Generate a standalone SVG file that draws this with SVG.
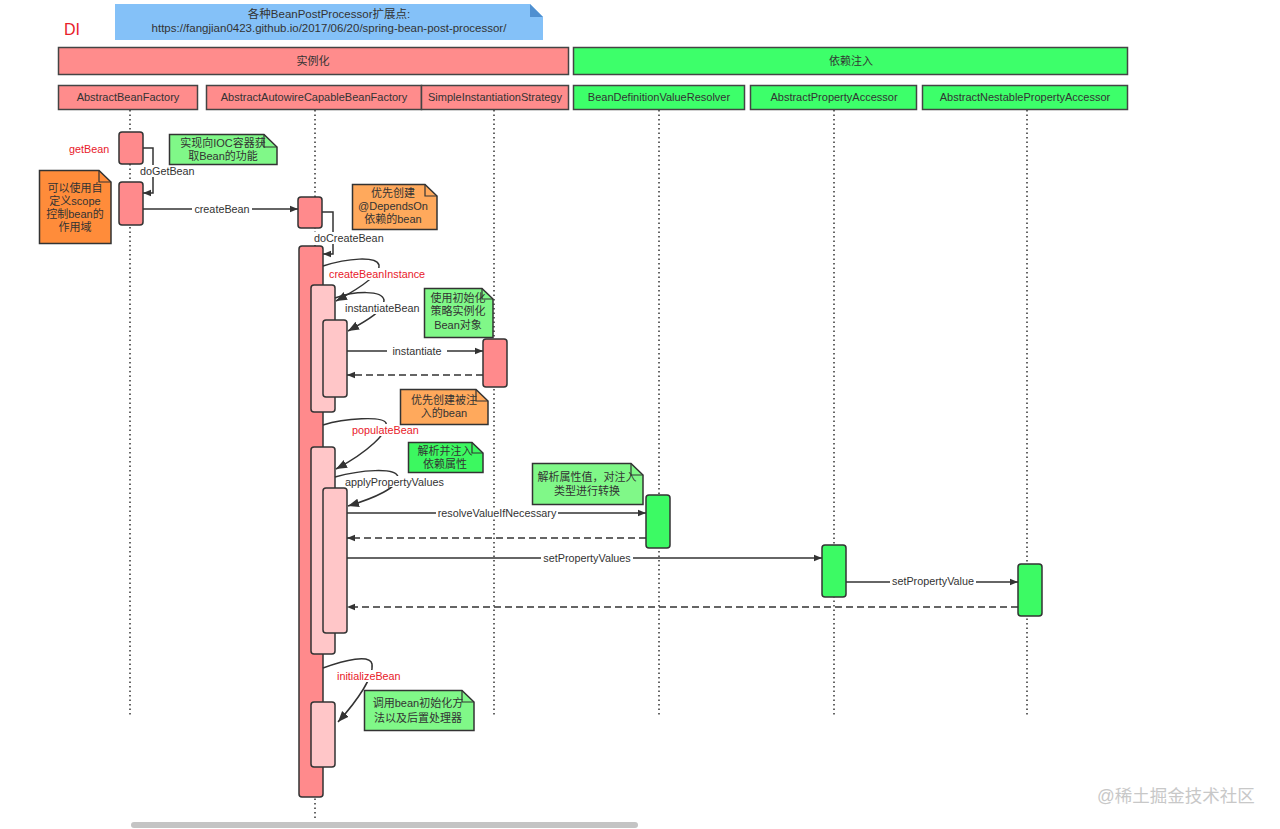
<svg xmlns="http://www.w3.org/2000/svg" width="1280" height="829" viewBox="0 0 1280 829">
<style>
text{font-family:"Liberation Sans","Noto Sans CJK SC",sans-serif;font-size:10.8px;fill:#333;}
.c{text-anchor:middle;}
.red{fill:#e8202a;}
.hdrR{fill:#ff8c8c;stroke:#444;stroke-width:1.5;}
.hdrG{fill:#3dff6a;stroke:#444;stroke-width:1.5;}
.actR{fill:#ff8a8c;stroke:#333;stroke-width:1.5;}
.actP{fill:#ffc6c8;stroke:#333;stroke-width:1.5;}
.actG{fill:#3cfa64;stroke:#333;stroke-width:1.5;}
.life{stroke:#333;stroke-width:1.5;stroke-dasharray:1.5 3;fill:none;}
.msg{stroke:#333;stroke-width:1.5;fill:none;marker-end:url(#ah);}
.ret{stroke:#333;stroke-width:1.5;stroke-dasharray:7 4;fill:none;marker-end:url(#ah);}
.lbl{fill:#fff;}
.noteLG{fill:#80f888;stroke:#333;stroke-width:1.5;}
.noteG{fill:#3cf860;stroke:#333;stroke-width:1.5;}
.noteO{fill:#ff8c3a;stroke:#333;stroke-width:1.5;}
.noteO2{fill:#ffa95c;stroke:#333;stroke-width:1.5;}
.fold{fill:none;stroke:#333;stroke-width:1.2;}
.hd{font-size:11px;}
.nt{font-size:11px;}
</style>
<defs>
<marker id="ah" viewBox="0 0 10 10" refX="10" refY="5" markerWidth="8" markerHeight="8" markerUnits="userSpaceOnUse" orient="auto">
<path d="M0,1 L10,5 L0,9 Z" fill="#333"/>
</marker>
<marker id="ah2" viewBox="0 0 10 10" refX="10" refY="5" markerWidth="11" markerHeight="11" markerUnits="userSpaceOnUse" orient="auto">
<path d="M0,1 L10,5 L0,9 Z" fill="#333"/>
</marker>
</defs>
<rect width="1280" height="829" fill="#fff"/>

<g id="title-note">
<path d="M115,4 H530 L543,17 V40 H115 Z" fill="#84c1f8"/>
<path d="M530,4 L543,17 H530 Z" fill="#4f8fd0"/>
<text class="c" x="329" y="18" style="font-size:11.5px">各种BeanPostProcessor扩展点:</text>
<text class="c" x="329" y="32" style="font-size:11.5px">https://fangjian0423.github.io/2017/06/20/spring-bean-post-processor/</text>
</g>
<g id="di-label"><text x="64" y="35" style="font-size:16px" class="red">DI</text></g>

<g id="group-instantiation">
<rect class="hdrR" x="58.5" y="47.5" width="510" height="27"/>
<text class="c hd" x="313" y="65">实例化</text>
</g>
<g id="group-di">
<rect class="hdrG" x="573.5" y="47.5" width="554" height="27"/>
<text class="c hd" x="851" y="65">依赖注入</text>
</g>

<g id="lifelines">
<line class="life" x1="130" y1="110" x2="130" y2="716"/>
<line class="life" x1="315" y1="110" x2="315" y2="818"/>
<line class="life" x1="494" y1="110" x2="494" y2="716"/>
<line class="life" x1="659" y1="110" x2="659" y2="716"/>
<line class="life" x1="834" y1="110" x2="834" y2="716"/>
<line class="life" x1="1027" y1="110" x2="1027" y2="716"/>
</g>

<g id="p-AbstractBeanFactory"><rect class="hdrR" x="58.5" y="85.5" width="139" height="24"/><text class="c hd" x="128" y="101">AbstractBeanFactory</text></g>
<g id="p-AbstractAutowireCapableBeanFactory"><rect class="hdrR" x="206.5" y="85.5" width="215" height="24"/><text class="c hd" x="314" y="101">AbstractAutowireCapableBeanFactory</text></g>
<g id="p-SimpleInstantiationStrategy"><rect class="hdrR" x="421.5" y="85.5" width="147" height="24"/><text class="c hd" x="495" y="101">SimpleInstantiationStrategy</text></g>
<g id="p-BeanDefinitionValueResolver"><rect class="hdrG" x="573.5" y="85.5" width="171" height="24"/><text class="c hd" x="659" y="101">BeanDefinitionValueResolver</text></g>
<g id="p-AbstractPropertyAccessor"><rect class="hdrG" x="750.5" y="85.5" width="166" height="24"/><text class="c hd" x="834" y="101">AbstractPropertyAccessor</text></g>
<g id="p-AbstractNestablePropertyAccessor"><rect class="hdrG" x="922.5" y="85.5" width="205" height="24"/><text class="c hd" x="1025" y="101">AbstractNestablePropertyAccessor</text></g>

<g id="act-getBean"><rect class="actR" x="119" y="132" width="24" height="32" rx="3"/></g>
<g id="act-doGetBean"><rect class="actR" x="119" y="182" width="24" height="43" rx="3"/></g>
<g id="act-createBean"><rect class="actR" x="298" y="197" width="24" height="31" rx="3"/></g>
<g id="act-doCreateBean"><rect class="actR" x="299" y="246" width="24" height="551" rx="3"/></g>
<g id="act-createBeanInstance"><rect class="actP" x="311" y="285" width="24" height="127" rx="3"/></g>
<g id="act-instantiateBean"><rect class="actP" x="323" y="320" width="24" height="77" rx="3"/></g>
<g id="act-instantiate"><rect class="actR" x="483" y="339" width="24" height="48" rx="3"/></g>
<g id="act-populateBean"><rect class="actP" x="311" y="447" width="24" height="207" rx="3"/></g>
<g id="act-applyPropertyValues"><rect class="actP" x="323" y="488" width="24" height="145" rx="3"/></g>
<g id="act-resolveValueIfNecessary"><rect class="actG" x="646" y="495" width="24" height="53" rx="3"/></g>
<g id="act-setPropertyValues"><rect class="actG" x="822" y="545" width="24" height="52" rx="3"/></g>
<g id="act-setPropertyValue"><rect class="actG" x="1018" y="564" width="24" height="52" rx="3"/></g>
<g id="act-initializeBean"><rect class="actP" x="311" y="702" width="24" height="65" rx="3"/></g>

<g id="connectors">
<path class="msg" d="M143,148 H153 V193 H143"/>
<path class="msg" d="M143,209 H298"/>
<path class="msg" d="M322,212 H333 V254 H323"/>
<path class="msg" style="marker-end:url(#ah2)" d="M323,266 C348,258 376,256 379,265 C381,274 360,288 336,301"/>
<path class="msg" style="marker-end:url(#ah2)" d="M335,298 C355,291 382,290 384,300 C385,310 368,320 348,331"/>
<path class="msg" d="M347,351 H483"/>
<path class="ret" d="M483,375 H347"/>
<path class="msg" style="marker-end:url(#ah2)" d="M323,425 C345,418 383,416 386,423 C389,432 368,452 336,469"/>
<path class="msg" style="marker-end:url(#ah2)" d="M335,477 C360,470 396,467 398,477 C399,487 375,498 348,506"/>
<path class="msg" d="M347,513 H646"/>
<path class="ret" d="M646,538 H347"/>
<path class="msg" d="M347,558 H822"/>
<path class="msg" d="M846,582 H1018"/>
<path class="ret" d="M1018,607 H347"/>
<path class="msg" style="marker-end:url(#ah2)" d="M323,668 C345,660 370,654 372,664 C374,676 358,700 338,722"/>
</g>

<g id="labels">
<text x="69" y="153" class="red">getBean</text>
<rect class="lbl" x="140" y="165" width="55" height="12"/>
<text x="140" y="175">doGetBean</text>
<rect class="lbl" x="192" y="204" width="60" height="11"/>
<text class="c" x="222" y="213">createBean</text>
<rect class="lbl" x="314" y="232" width="69" height="12"/>
<text x="314" y="242">doCreateBean</text>
<rect class="lbl" x="329" y="268" width="96" height="12"/>
<text x="329" y="278" class="red">createBeanInstance</text>
<rect class="lbl" x="345" y="302" width="77" height="12"/>
<text x="345" y="312">instantiateBean</text>
<rect class="lbl" x="387" y="346" width="60" height="11"/>
<text class="c" x="417" y="355">instantiate</text>
<rect class="lbl" x="352" y="424" width="68" height="12"/>
<text x="352" y="434" class="red">populateBean</text>
<rect class="lbl" x="345" y="476" width="100" height="11"/>
<text x="345" y="486">applyPropertyValues</text>
<rect class="lbl" x="436" y="508" width="122" height="11"/>
<text class="c" x="497" y="517">resolveValueIfNecessary</text>
<rect class="lbl" x="541" y="553" width="92" height="11"/>
<text class="c" x="587" y="562">setPropertyValues</text>
<rect class="lbl" x="890" y="577" width="86" height="11"/>
<text class="c" x="933" y="585">setPropertyValue</text>
<rect class="lbl" x="337" y="670" width="64" height="12"/>
<text x="337" y="680" class="red">initializeBean</text>
</g>

<g id="note-getBean">
<path class="noteLG" d="M169.5,134.5 H264 L277,147 V164.5 H169.5 Z"/>
<path class="fold" d="M264,134.5 V147 H277"/>
<text class="c nt" x="223" y="147">实现向IOC容器获</text>
<text class="c nt" x="223" y="160">取Bean的功能</text>
</g>
<g id="note-scope">
<path class="noteO" d="M39.5,170.5 H99 L111,182 V243.5 H39.5 Z"/>
<path class="fold" d="M99,170.5 V182 H111"/>
<text class="c nt" x="75" y="192">可以使用自</text>
<text class="c nt" x="75" y="205">定义scope</text>
<text class="c nt" x="75" y="218">控制bean的</text>
<text class="c nt" x="75" y="231">作用域</text>
</g>
<g id="note-dependsOn">
<path class="noteO2" d="M352.5,184.5 H425 L437,196 V229.5 H352.5 Z"/>
<path class="fold" d="M425,184.5 V196 H437"/>
<text class="c nt" x="393" y="197">优先创建</text>
<text class="c nt" x="393" y="210">@DependsOn</text>
<text class="c nt" x="393" y="223">依赖的bean</text>
</g>
<g id="note-strategy">
<path class="noteLG" d="M424.5,288.5 H482 L493,299 V337.5 H424.5 Z"/>
<path class="fold" d="M482,288.5 V299 H493"/>
<text class="c nt" x="458" y="302">使用初始化</text>
<text class="c nt" x="458" y="315">策略实例化</text>
<text class="c nt" x="458" y="329">Bean对象</text>
</g>
<g id="note-inject-first">
<path class="noteO2" d="M400.5,389.5 H476 L488,401 V424.5 H400.5 Z"/>
<path class="fold" d="M476,389.5 V401 H488"/>
<text class="c nt" x="444" y="404">优先创建被注</text>
<text class="c nt" x="444" y="417">入的bean</text>
</g>
<g id="note-resolve-inject">
<path class="noteG" d="M408.5,442.5 H472 L483,453 V472.5 H408.5 Z"/>
<path class="fold" d="M472,442.5 V453 H483"/>
<text class="c nt" x="445" y="455">解析并注入</text>
<text class="c nt" x="445" y="468">依赖属性</text>
</g>
<g id="note-convert">
<path class="noteLG" d="M532.5,463.5 H631 L643,475 V504.5 H532.5 Z"/>
<path class="fold" d="M631,463.5 V475 H643"/>
<text class="c nt" x="587" y="481">解析属性值，对注入</text>
<text class="c nt" x="587" y="495">类型进行转换</text>
</g>
<g id="note-init">
<path class="noteLG" d="M364.5,690.5 H462 L474,702 V730.5 H364.5 Z"/>
<path class="fold" d="M462,690.5 V702 H474"/>
<text class="c nt" x="418" y="707">调用bean初始化方</text>
<text class="c nt" x="418" y="722">法以及后置处理器</text>
</g>

<g id="scrollbar"><rect x="131" y="822" width="507" height="6" rx="3" fill="#c4c4c4"/></g>
<g id="watermark"><text x="1097" y="802" style="font-size:17.5px;fill:#c8c8c8">@稀土掘金技术社区</text></g>
</svg>
